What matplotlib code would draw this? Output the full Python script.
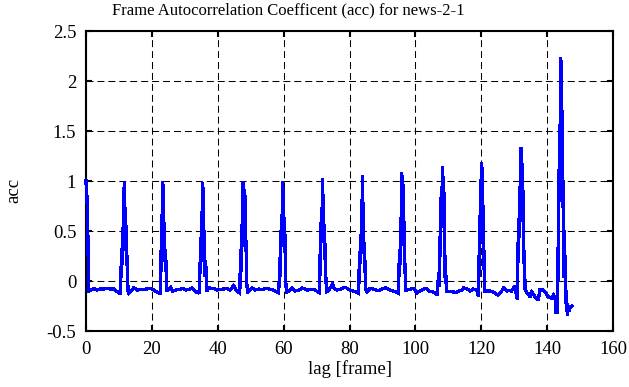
import matplotlib
matplotlib.use("Agg")
import matplotlib.pyplot as plt

# ---- data ----
lag = [
    0.0, 0.2, 0.35, 0.5, 0.6, 0.75, 0.9,
    1.6, 2.35, 3.4, 4.4, 5.4, 6.4, 7.4, 8.4, 9.5, 10.3,
    10.5, 10.7, 10.85, 11.05, 11.2, 11.4, 11.6, 11.75, 11.9, 12.05, 12.2, 12.4, 12.55, 12.75,
    13.0, 14.0, 14.5, 15.6, 17.1, 18.6, 19.6, 20.6, 21.7, 22.5,
    22.6, 22.75, 22.9, 23.05, 23.25, 23.4, 23.55, 23.7, 23.85, 24.0, 24.2, 24.4, 24.6,
    25.7, 26.3, 27.3, 28.3, 29.3, 30.3, 31.3, 32.3, 33.3, 33.9, 34.4,
    34.7, 34.85, 35.0, 35.15, 35.35, 35.5, 35.65, 35.8, 35.95, 36.15, 36.35, 36.6,
    37.4, 38.7, 39.7, 41.3, 42.8, 43.8, 44.8, 45.8, 46.7,
    46.9, 47.05, 47.25, 47.4, 47.6, 47.75, 47.9, 48.05, 48.2, 48.4, 48.55, 48.7, 48.85, 49.05,
    49.4, 50.4, 51.4, 52.5, 53.5, 54.5, 55.5, 56.5, 57.5, 58.5,
    58.9, 59.05, 59.3, 59.45, 59.7, 59.85, 60.0, 60.15, 60.35, 60.5, 60.7, 60.9,
    61.6, 62.6, 63.6, 64.6, 65.7, 66.5, 67.2, 68.0, 68.7, 69.5, 70.3, 70.8,
    71.0, 71.15, 71.4, 71.55, 71.8, 71.95, 72.1, 72.25, 72.45, 72.6, 72.8, 73.0,
    73.8, 74.8, 75.5, 76.3, 77.1, 78.7, 80.2, 81.7, 82.7,
    82.9, 83.05, 83.3, 83.45, 83.65, 83.8, 83.95, 84.1, 84.25, 84.4, 84.6, 84.75, 85.0,
    85.3, 86.3, 87.3, 88.0, 88.8, 89.8, 90.9, 91.6, 92.4, 93.2, 93.9, 94.9,
    95.1, 95.25, 95.5, 95.65, 95.9, 96.05, 96.2, 96.35, 96.5, 96.65, 96.8, 97.0,
    97.5, 98.5, 99.5, 100.5, 101.3, 102.0, 103.1, 103.8, 104.6, 105.4, 106.1, 106.7,
    107.0, 107.15, 107.4, 107.55, 107.8, 107.95, 108.2, 108.35, 108.5, 108.65, 108.85, 109.0, 109.15, 109.4,
    110.8, 111.6, 112.3, 113.1, 113.9, 114.6, 115.5, 116.6, 117.6, 118.6, 119.1,
    119.3, 119.45, 119.65, 119.8, 120.0, 120.15, 120.3, 120.45, 120.6, 120.75, 120.9, 121.1,
    121.7, 122.6, 123.7, 124.5, 125.2, 126.2, 126.8, 127.7, 128.5, 129.2, 130.2, 130.8,
    131.0, 131.2, 131.35, 131.6, 131.75, 132.0, 132.15, 132.3, 132.45, 132.6, 132.75, 132.9, 133.1, 133.3,
    133.8, 134.2, 134.8, 135.3, 135.8, 136.3, 136.8, 137.3, 137.8, 138.8, 139.3, 139.8, 140.3,
    140.8, 141.3, 141.9, 142.4, 142.7, 142.85, 143.0, 143.2,
    143.35, 143.45, 143.6, 143.75, 143.9, 144.05, 144.2, 144.35, 144.5, 144.65, 144.8, 144.95,
    145.1, 145.3, 145.5, 145.7, 145.9, 146.1, 146.5, 146.7, 147.0, 147.6,
]
acc = [
    1.00, 0.78, 0.85, 0.26, 0.45, -0.02, -0.10,
    -0.09, -0.073, -0.09, -0.08, -0.08, -0.075, -0.08, -0.08, -0.107, -0.123,
    -0.12, 0.21, 0.05, 0.53, 0.30, 0.60, 0.99, 0.50, 0.73, 0.40, 0.55, 0.16, 0.25, -0.10,
    -0.123, -0.09, -0.067, -0.09, -0.083, -0.08, -0.073, -0.09, -0.113, -0.123,
    0.29, 0.10, 0.66, 0.45, 0.99, 0.60, 0.96, 0.39, 0.55, 0.20, 0.30, -0.04, -0.10,
    -0.065, -0.10, -0.09, -0.085, -0.075, -0.09, -0.085, -0.07, -0.11, -0.107, -0.123,
    0.25, 0.08, 0.63, 0.40, 0.98, 0.55, 0.93, 0.39, 0.50, 0.05, 0.20, -0.10,
    -0.07, -0.073, -0.09, -0.083, -0.073, -0.09, -0.047, -0.10, -0.12,
    0.31, 0.10, 0.56, 0.35, 0.99, 0.60, 0.98, 0.73, 0.90, 0.69, 0.30, 0.40, -0.04, -0.12,
    -0.10, -0.07, -0.09, -0.08, -0.085, -0.073, -0.08, -0.085, -0.10, -0.12,
    0.23, 0.05, 0.66, 0.40, 0.99, 0.60, 0.93, 0.39, 0.56, 0.15, -0.04, -0.11,
    -0.10, -0.07, -0.10, -0.09, -0.07, -0.08, -0.09, -0.085, -0.083, -0.09, -0.107, -0.117,
    0.26, 0.06, 0.63, 0.40, 1.02, 0.60, 0.86, 0.39, 0.56, 0.20, 0.06, -0.107,
    -0.09, -0.03, -0.08, -0.09, -0.083, -0.063, -0.09, -0.107, -0.123,
    0.11, -0.02, 0.44, 0.25, 0.81, 0.50, 1.05, 0.59, 0.78, 0.28, 0.35, 0.06, -0.09,
    -0.107, -0.073, -0.083, -0.09, -0.097, -0.08, -0.067, -0.08, -0.09, -0.10, -0.107, -0.123,
    0.24, 0.05, 0.63, 0.40, 1.08, 0.60, 1.00, 0.44, 0.64, 0.11, 0.20, -0.09,
    -0.09, -0.083, -0.073, -0.12, -0.10, -0.09, -0.073, -0.09, -0.107, -0.11, -0.123, -0.14,
    0.08, -0.05, 0.44, 0.25, 0.83, 0.55, 1.14, 0.70, 1.04, 0.54, 0.88, 0.04, 0.20, -0.107,
    -0.107, -0.11, -0.117, -0.10, -0.097, -0.07, -0.075, -0.10, -0.08, -0.09, -0.15,
    0.25, 0.05, 0.65, 0.40, 1.18, 0.70, 1.13, 0.45, 0.75, 0.12, 0.30, -0.10,
    -0.10, -0.10, -0.11, -0.13, -0.14, -0.10, -0.07, -0.10, -0.095, -0.10, -0.05, -0.17,
    -0.18, 0.41, 0.20, 0.94, 0.60, 1.33, 0.90, 1.33, 0.72, 1.08, 0.48, 0.18, 0.30, -0.08,
    -0.12, -0.123, -0.157, -0.107, -0.13, -0.157, -0.17, -0.19, -0.09, -0.09, -0.107, -0.13, -0.157,
    -0.165, -0.173, -0.14, -0.173, -0.32, -0.15, -0.20, -0.323,
    0.40, 1.11, 0.80, 1.50, 1.30, 2.23, 1.60, 2.20, 1.14, 1.70, 0.74, 1.00,
    0.04, 0.50, -0.02, -0.22, -0.10, -0.34, -0.26, -0.30, -0.26, -0.25,
]

xticks = [0, 20, 40, 60, 80, 100, 120, 140, 160]
yticks = [-0.5, 0, 0.5, 1, 1.5, 2, 2.5]
yticklabels = ["-0.5", "0", "0.5", "1", "1.5", "2", "2.5"]
title = "Frame Autocorrelation Coefficent (acc) for news-2-1"

plt.rcParams["font.family"] = ["Liberation Serif", "DejaVu Serif"]
FS_TITLE = 12
FS = 13.5

W, H = 629, 387
fig = plt.figure(figsize=(W / 100, H / 100), dpi=100)
ax = fig.add_axes([86 / W, 1 - 331 / H, (613 - 86) / W, (331 - 31) / H])

ax.plot(lag, acc, color=(0, 0, 1), lw=1.6, solid_joinstyle="miter",
        antialiased=False, clip_on=False, zorder=5)

ax.set_xlim(0, 160)
ax.set_ylim(-0.5, 2.5)
ax.set_xticks(xticks)
ax.set_xticklabels([str(t) for t in xticks])
ax.set_yticks(yticks)
ax.set_yticklabels(yticklabels)

ax.grid(True, color="black", lw=0.75, linestyle=(0, (6.7, 3.8)))
ax.set_axisbelow(False)
for s in ax.spines.values():
    s.set_linewidth(1.5)
    s.set_zorder(4)
ax.tick_params(direction="in", length=4.5, width=1.5, top=True, right=True,
               labelsize=FS, pad=7)

fig.text(288 / W, 1 - 10 / H, title, ha="center", va="center", fontsize=FS_TITLE)
fig.text(350 / W, 1 - 369 / H, "lag [frame]", ha="center", va="center", fontsize=FS)
fig.text(14 / W, 1 - 190 / H, "acc", ha="center", va="center", rotation=90, fontsize=FS)

fig.savefig("out.png", dpi=100)
